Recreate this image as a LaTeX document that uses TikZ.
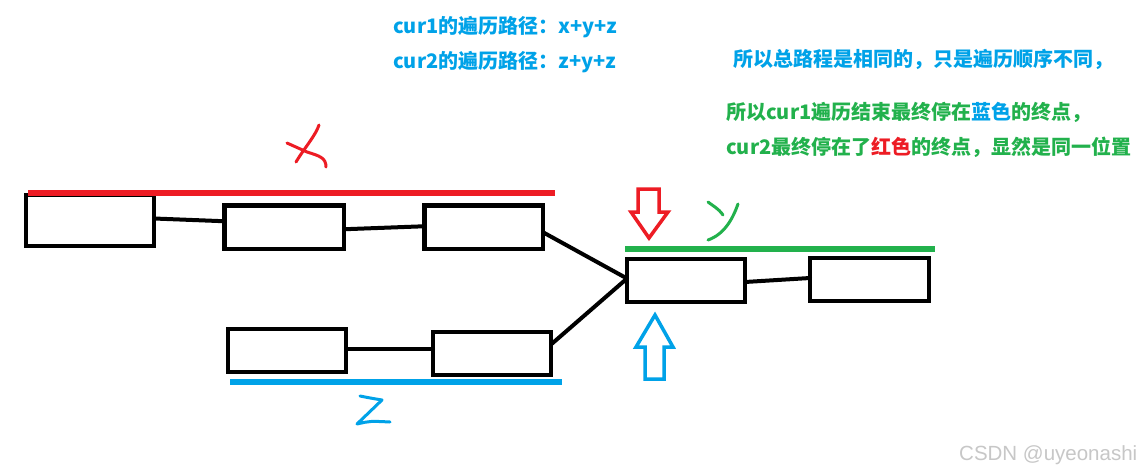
\documentclass[tikz,border=0pt]{standalone}
\usepackage{fontspec}
\newfontfamily\cjk{Noto Sans CJK SC}
\newfontfamily\wmfont{Liberation Sans}
\definecolor{pblue}{RGB}{0,162,232}
\definecolor{pgreen}{RGB}{34,177,76}
\definecolor{pred}{RGB}{237,28,36}
\tikzset{
  box/.style={draw=black, line width=4.3pt, inner sep=0pt, outer sep=0pt},
  link/.style={draw=black, line width=4pt, line cap=round},
  bar/.style={line width=6pt},
  hand/.style={line width=3pt, line cap=round, line join=round},
  hollow/.style={line width=3.5pt, line join=miter},
  lbl/.style={inner sep=0pt, anchor=base west, font=\cjk\bfseries\fontsize{20}{24}\selectfont},
}
\begin{document}
\begin{tikzpicture}[x=1pt,y=-1pt]
\useasboundingbox (0,0) rectangle (1141,471);
\fill[white] (0,0) rectangle (1141,471);

% boxes
\node[box, minimum width=128pt, minimum height=51pt] (a) at (90,220.5) {};
\node[box, minimum width=119.5pt, minimum height=43.5pt] (b) at (284.25,227.25) {};
\node[box, minimum width=118.5pt, minimum height=43.5pt] (c) at (483.75,227.25) {};
\node[box, minimum width=118pt, minimum height=43pt] (d) at (686,280.5) {};
\node[box, minimum width=119pt, minimum height=43pt] (e) at (869.5,279.5) {};
\node[box, minimum width=118pt, minimum height=43pt] (f) at (287,350.5) {};
\node[box, minimum width=118pt, minimum height=43pt] (g) at (492,353.5) {};

% connectors
\draw[link] ([yshift=2pt]a.east) -- ([yshift=6pt]b.west);
\draw[link] ([yshift=-2pt]b.east) -- ([yshift=1pt]c.west);
\draw[link] ([yshift=-5pt]c.east) -- ([yshift=2pt]d.west);
\draw[link] ([yshift=9pt]g.east) -- ([yshift=2pt]d.west);
\draw[link] ([yshift=-1.5pt]d.east) -- ([yshift=1.5pt]e.west);
\draw[link] ([yshift=1.5pt]f.east) -- ([yshift=4.5pt]g.west);

% coloured bars
\draw[bar, pred] (28,193) -- (555,193);
\draw[bar, pgreen] (625,249) -- (935,249);
\draw[bar, pblue] (230,382) -- (562,382);

% handwritten letters
\draw[hand, pred] (319,125) .. controls (316,135) and (303,150) .. (296,162);
\draw[hand, pred] (287,143) -- (307,152) .. controls (320,156) and (326,158) .. (326,167);
\draw[hand, pgreen] (708,202) .. controls (713,206) and (718,208) .. (723,215);
\draw[hand, pgreen] (738,204) .. controls (733,218) and (725,234) .. (708,240);
\draw[hand, pblue] (360,396) .. controls (370,398) .. (382,400) -- (357,424) .. controls (370,421) .. (390,422);

% hollow arrows
\draw[hollow, pred] (638,189) -- (659,189) -- (659,212) -- (668,212) -- (649,238) -- (631,212) -- (638,212) -- cycle;
\draw[hollow, pblue] (655,315) -- (673,347) -- (664,347) -- (664,379) -- (645,379) -- (645,347) -- (636,347) -- cycle;

% texts
\node[lbl, text=pblue] (t1) at (393,34) {cur1的遍历路径：x+y+z};
\node[lbl, text=pblue] (t2) at (393,68) {cur2的遍历路径：z+y+z};
\node[lbl, text=pblue] (t3) at (733,66) {所以总路程是相同的，只是遍历顺序不同，};
\node[lbl, text=pgreen] (t4) at (726,119) {所以cur1遍历结束最终停在{\color{pblue}蓝色}的终点，};
\node[lbl, text=pgreen] (t5) at (726,154) {cur2最终停在了{\color{pred}红色}的终点，显然是同一位置};

% watermark
\node[inner sep=0pt, anchor=base west, text=black!22, font=\wmfont\fontsize{20.5}{24}\selectfont] (wm) at (959,460) {CSDN @uyeonashi};
\end{tikzpicture}
\end{document}
